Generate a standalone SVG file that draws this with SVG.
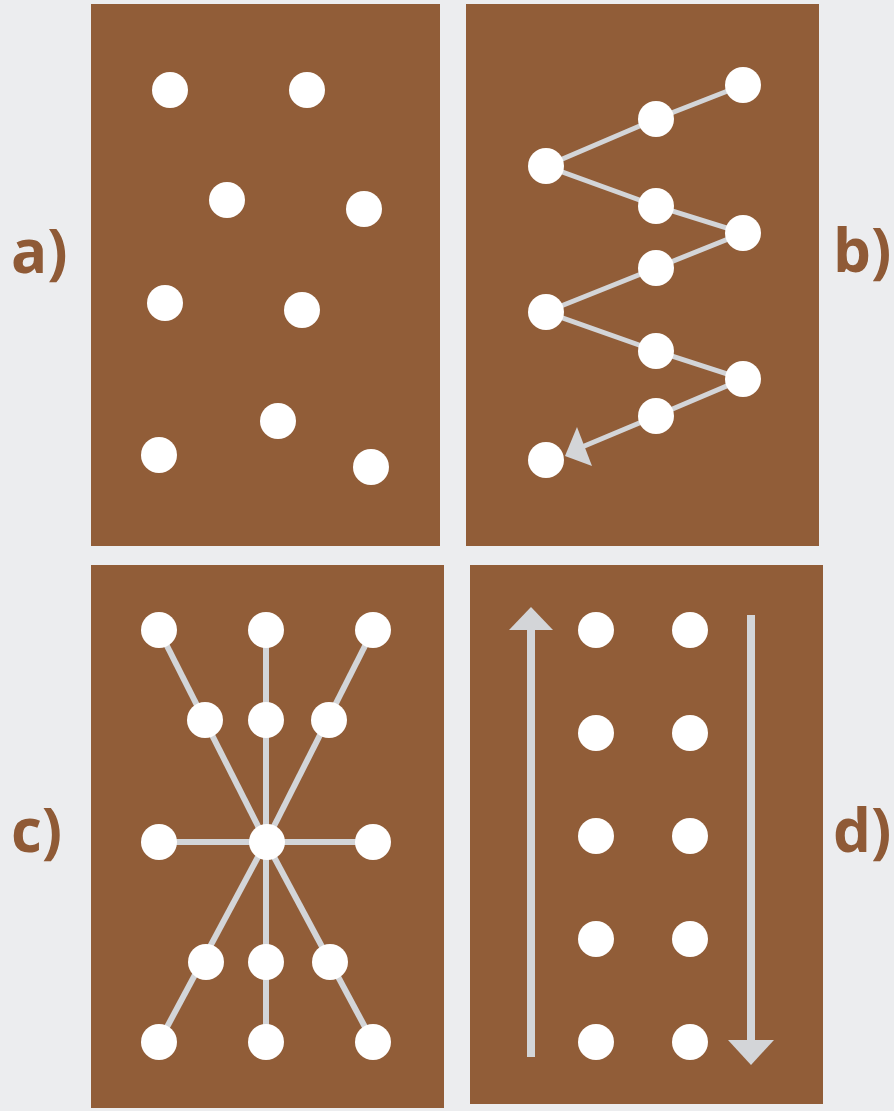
<svg xmlns="http://www.w3.org/2000/svg" width="894" height="1111" viewBox="0 0 894 1111">
<style>
.bg{fill:#ECEDEF}
.panel{fill:#915D38}
.dot{fill:#FFFFFF}
.ln{stroke:#D3D5D8;stroke-width:6;fill:none;stroke-linecap:butt}
.lnb{stroke:#D3D5D8;stroke-width:5;fill:none}
.lnw{stroke:#D3D5D8;stroke-width:8;fill:none}
.ah{fill:#D3D5D8}
.lbl{font-family:"Open Sans","Liberation Sans",sans-serif;font-weight:bold;font-size:60px;fill:#8F5A36}
</style>
<rect class="bg" x="0" y="0" width="894" height="1111"/>
<g id="panel-a">
<rect class="panel" x="91" y="4" width="349" height="542"/>
<circle class="dot" cx="170" cy="90" r="18"/>
<circle class="dot" cx="307" cy="90" r="18"/>
<circle class="dot" cx="227" cy="200" r="18"/>
<circle class="dot" cx="364" cy="209" r="18"/>
<circle class="dot" cx="165" cy="303" r="18"/>
<circle class="dot" cx="302" cy="310" r="18"/>
<circle class="dot" cx="278" cy="421" r="18"/>
<circle class="dot" cx="159" cy="455" r="18"/>
<circle class="dot" cx="371" cy="467" r="18"/>
</g>
<g id="panel-b-bg"><rect class="panel" x="466" y="4" width="353" height="542"/></g>
<g id="panel-c-bg"><rect class="panel" x="91" y="565" width="353" height="543"/></g>
<g id="panel-d-bg"><rect class="panel" x="470" y="565" width="353" height="539"/></g>
<g id="connectors">
<polyline class="lnb" points="743,85 656,119 546,166 656,206 743,233 656,268 546,312 656,351 743,379 656,416 582,447"/>
<polygon class="ah" points="565,456 577,427 592,466"/>
<line class="ln" x1="266" y1="842" x2="159" y2="630"/>
<line class="ln" x1="266" y1="842" x2="266" y2="630"/>
<line class="ln" x1="266" y1="842" x2="373" y2="630"/>
<line class="ln" x1="266" y1="842" x2="159" y2="842"/>
<line class="ln" x1="266" y1="842" x2="373" y2="842"/>
<line class="ln" x1="266" y1="842" x2="159" y2="1042"/>
<line class="ln" x1="266" y1="842" x2="266" y2="1042"/>
<line class="ln" x1="266" y1="842" x2="373" y2="1042"/>
<line class="lnw" x1="531" y1="1057" x2="531" y2="626"/>
<polygon class="ah" points="531,607 553,630 509,630"/>
<line class="lnw" x1="751" y1="615" x2="751" y2="1042"/>
<polygon class="ah" points="751,1065 774,1040 728,1040"/>
</g>
<g id="panel-b">
<circle class="dot" cx="743" cy="85" r="18"/>
<circle class="dot" cx="656" cy="119" r="18"/>
<circle class="dot" cx="546" cy="166" r="18"/>
<circle class="dot" cx="656" cy="206" r="18"/>
<circle class="dot" cx="743" cy="233" r="18"/>
<circle class="dot" cx="656" cy="268" r="18"/>
<circle class="dot" cx="546" cy="312" r="18"/>
<circle class="dot" cx="656" cy="351" r="18"/>
<circle class="dot" cx="743" cy="379" r="18"/>
<circle class="dot" cx="656" cy="416" r="18"/>
<circle class="dot" cx="546" cy="460" r="18"/>
</g>
<g id="panel-c">
<circle class="dot" cx="159" cy="630" r="18"/>
<circle class="dot" cx="266" cy="630" r="18"/>
<circle class="dot" cx="373" cy="630" r="18"/>
<circle class="dot" cx="205" cy="720" r="18"/>
<circle class="dot" cx="266" cy="720" r="18"/>
<circle class="dot" cx="329" cy="720" r="18"/>
<circle class="dot" cx="159" cy="842" r="18"/>
<circle class="dot" cx="267" cy="842" r="18"/>
<circle class="dot" cx="373" cy="842" r="18"/>
<circle class="dot" cx="206" cy="962" r="18"/>
<circle class="dot" cx="266" cy="962" r="18"/>
<circle class="dot" cx="330" cy="962" r="18"/>
<circle class="dot" cx="159" cy="1042" r="18"/>
<circle class="dot" cx="266" cy="1042" r="18"/>
<circle class="dot" cx="373" cy="1042" r="18"/>
</g>
<g id="panel-d">
<circle class="dot" cx="596" cy="630" r="18"/>
<circle class="dot" cx="690" cy="630" r="18"/>
<circle class="dot" cx="596" cy="733" r="18"/>
<circle class="dot" cx="690" cy="733" r="18"/>
<circle class="dot" cx="596" cy="836" r="18"/>
<circle class="dot" cx="690" cy="836" r="18"/>
<circle class="dot" cx="596" cy="939" r="18"/>
<circle class="dot" cx="690" cy="939" r="18"/>
<circle class="dot" cx="596" cy="1042" r="18"/>
<circle class="dot" cx="690" cy="1042" r="18"/>
</g>
<g id="labels">
<text class="lbl" x="11" y="273">a)</text>
<text class="lbl" x="833" y="272">b)</text>
<text class="lbl" x="11" y="852">c)</text>
<text class="lbl" x="833" y="852">d)</text>
</g>
</svg>
